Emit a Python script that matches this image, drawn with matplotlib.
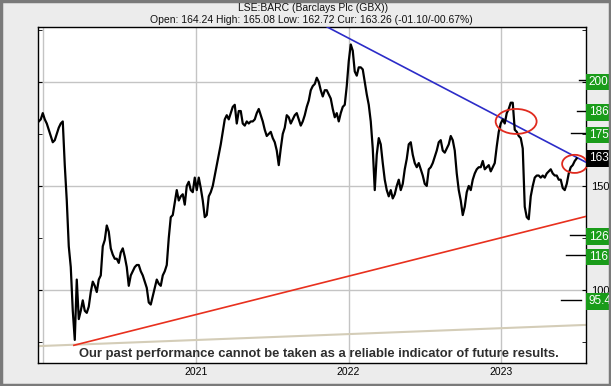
#Barclays price chart with trend lines and target levels
import numpy as np
import pandas as pd
import matplotlib
matplotlib.use('Agg')
import matplotlib.pyplot as plt
import matplotlib.dates as mdates
from matplotlib.patches import Ellipse, Rectangle

# closing prices, evenly spaced in time
close = [181, 182, 185, 182, 180, 177, 174, 171, 172, 175, 178, 180, 181, 160, 143, 121,
         111, 90, 76, 105, 86, 90, 95, 90, 89, 92, 99, 104, 102, 99, 105, 107,
         121, 124, 131, 128, 120, 117, 115, 115, 113, 118, 120, 116, 111, 102, 107, 109,
         111, 112, 112, 109, 107, 104, 101, 94, 93, 97, 101, 105, 103, 102, 107, 109,
         112, 125, 135, 136, 142, 148, 143, 145, 146, 141, 150, 152, 148, 147, 154, 148,
         154, 149, 143, 135, 136, 145, 147, 150, 155, 160, 165, 170, 176, 182, 184, 182,
         185, 188, 189, 180, 186, 186, 180, 179, 181, 180, 181, 181, 182, 185, 187, 184,
         181, 177, 174, 175, 176, 173, 171, 167, 160, 168, 175, 178, 184, 183, 180, 182,
         184, 185, 182, 179, 181, 184, 188, 191, 196, 198, 199, 202, 200, 196, 193, 196,
         196, 194, 192, 187, 183, 185, 181, 185, 188, 189, 198, 210, 218, 215, 205, 203,
         207, 207, 206, 200, 194, 189, 181, 168, 148, 165, 173, 170, 161, 153, 148, 145,
         148, 144, 146, 150, 153, 148, 151, 158, 163, 170, 171, 165, 161, 159, 161, 158,
         155, 151, 150, 158, 159, 161, 164, 167, 171, 172, 167, 166, 168, 170, 174, 172,
         167, 156, 148, 143, 136, 140, 147, 150, 148, 153, 156, 158, 159, 159, 162, 158,
         159, 160, 157, 159, 161, 169, 176, 180, 182, 180, 185, 187, 190, 190, 177, 176,
         174, 173, 168, 140, 135, 134, 145, 150, 154, 155, 155, 154, 155, 154, 156, 157,
         158, 156, 155, 155, 153, 153, 149, 148, 151, 156, 159, 160, 162, 163.26]
first_day, last_day = '2019-12-22', '2023-07-01'

# trend lines
blue_dates = ['2021-11-11', '2023-07-22']
blue_vals = [226.4, 161.5]
red_dates = ['2020-03-15', '2023-07-22']
red_vals = [73.4, 135.3]
base_dates = ['2019-12-19', '2023-07-22']
base_vals = [73.0, 83.2]

# circled areas
ring_dates = ['2023-02-06', '2023-06-26']
ring_vals = [181.0, 160.6]
ring_days = [98, 60]
ring_span = [12.0, 8.7]

# target levels on the right
targets = [200.7, 186.1, 175.3, 126.4, 116.7, 95.40]
target_text = ['200.7', '186.1', '175.3', '126.4', '116.7', '95.40']
current = 163.26

dates = pd.date_range(first_day, last_day, periods=len(close))

fig = plt.figure(figsize=(6.11, 3.86), dpi=100, facecolor='#ececec')
fig.patches.append(Rectangle((0.001, 0.002), 0.997, 0.995, transform=fig.transFigure,
                             fill=False, edgecolor='#7a7a7a', lw=2.5, zorder=0))
ax = fig.add_axes([0.0614, 0.0596, 0.8969, 0.8705])
ax.set_facecolor('white')

ax.plot(pd.to_datetime(base_dates), base_vals, color='#d4cdb8', lw=1.5, zorder=2)
ax.plot(pd.to_datetime(red_dates), red_vals, color='#e8301e', lw=1.2, zorder=3)
ax.plot(pd.to_datetime(blue_dates), blue_vals, color='#2c2cc8', lw=1.2, zorder=3)
ax.plot(dates, close, color='black', lw=1.6, zorder=4)

for d, v, w, h in zip(ring_dates, ring_vals, ring_days, ring_span):
    ax.add_patch(Ellipse((mdates.date2num(pd.Timestamp(d)), v), w, h, fill=False,
                         edgecolor='#e02a1e', lw=1.3, zorder=5, clip_on=False))

ax.set_xlim(pd.Timestamp('2019-12-19'), pd.Timestamp('2023-07-22'))
ax.set_ylim(64.9, 226.4)

years = pd.to_datetime(['2020-01-01', '2021-01-01', '2022-01-01', '2023-01-01'])
ax.set_xticks(years)
ax.set_xticklabels(['', '2021', '2022', '2023'], fontsize=7.5, family='Liberation Sans')
ax.tick_params(axis='x', length=0, pad=3)
ax.set_yticks([100, 150, 200])
ax.set_yticklabels(['100', '150', ''])
ax.set_yticks([75, 125, 175, 225], minor=True)
ax.tick_params(axis='y', which='both', direction='in', length=3, left=True, right=True,
               labelleft=False, labelright=True, labelsize=8, pad=4)
for lab in ax.get_yticklabels():
    lab.set_family('Liberation Sans')
ax.grid(True, which='major', color='#c4c4c4', lw=1)
ax.set_axisbelow(True)
for s in ax.spines.values():
    s.set_color('black')
    s.set_linewidth(1)

# target markers and boxes
tr = ax.get_yaxis_transform()
line_start = [0.989, 0.984, 0.973, 0.971, 0.964, 0.955]
line_end = [1.0, 1.0, 1.0, 1.0, 1.0, 0.991]
for v, t, x0, x1 in zip(targets, target_text, line_start, line_end):
    ax.plot([x0, x1], [v, v], color='black', lw=1, transform=tr, clip_on=False, zorder=6)
    ax.text(1.006, v - 0.8, t, transform=tr, color='white', fontsize=8.5, va='center', ha='left',
            family='Liberation Sans', zorder=7, clip_on=False,
            bbox=dict(boxstyle='square,pad=0.2', fc='#1a9c1a', ec='none'))
ax.text(1.006, current, '163.26', transform=tr, color='white', fontsize=8.5, va='center',
        ha='left', family='Liberation Sans', zorder=7, clip_on=False,
        bbox=dict(boxstyle='square,pad=0.2', fc='black', ec='none'))

ax.text(0.514, 0.026, 'Our past performance cannot be taken as a reliable indicator of future results.',
        transform=ax.transAxes, ha='center', va='center', fontsize=9.4, fontweight='bold',
        color='#2e2e2e', family='Liberation Sans', zorder=6)

fig.text(0.512, 0.980, 'LSE:BARC (Barclays Plc (GBX))', ha='center', va='center',
         fontsize=7.5, family='Liberation Sans', color='#111111')
fig.text(0.510, 0.947, 'Open: 164.24 High: 165.08 Low: 162.72 Cur: 163.26 (-01.10/-00.67%)',
         ha='center', va='center', fontsize=7.5, family='Liberation Sans', color='#111111')

fig.savefig('out.png', dpi=100, facecolor=fig.get_facecolor())
